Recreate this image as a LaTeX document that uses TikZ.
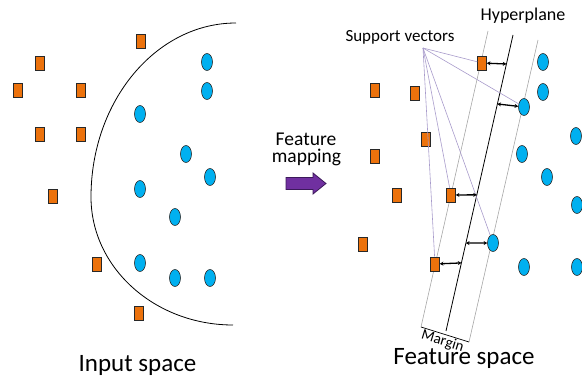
\documentclass[tikz,border=0pt]{standalone}
\usepackage{fontspec}
\setmainfont{Carlito}
\usetikzlibrary{shapes.geometric,arrows.meta,calc}
\definecolor{sqorange}{RGB}{236,114,12}
\definecolor{ciblue}{RGB}{0,176,240}
\definecolor{svpurple}{RGB}{168,155,203}
\definecolor{mgray}{RGB}{166,166,166}
\definecolor{arrpurple}{RGB}{112,48,160}
\definecolor{arrdark}{RGB}{60,25,90}
\definecolor{edge}{RGB}{40,40,40}
\tikzset{
  sqpt/.style={rectangle,minimum width=9pt,minimum height=14pt,inner sep=0pt,fill=sqorange,draw=edge,line width=0.6pt},
  cipt/.style={ellipse,minimum width=11pt,minimum height=17pt,inner sep=0pt,fill=ciblue,draw=edge,line width=0.6pt},
  svline/.style={draw=svpurple,line width=0.6pt},
  mline/.style={draw=mgray,line width=0.6pt},
  dist/.style={line width=1.3pt,{Stealth[length=3.6pt,width=4pt]}-{Stealth[length=3.6pt,width=4pt]}},
  lbl/.style={inner sep=0pt,anchor=base}
}
\begin{document}
\begin{tikzpicture}[x=1pt,y=-1pt]
\useasboundingbox (0,0) rectangle (582,377);
% ---------- input space ----------
\draw[line width=0.8pt] (236,23) .. controls (156,23) and (91,101) .. (91,197)
  .. controls (91,268) and (155,325) .. (233,325);
\foreach \n/\x/\y in {a1/141/41,a2/40/63,a3/18/90,a4/81/90,a5/40/134,a6/81/134,a7/53/196,a8/97/264,a9/139/313}
  \node[sqpt] (\n) at (\x,\y) {};
\foreach \n/\x/\y in {b1/207/62,b2/207/91,b3/140/114,b4/186/154,b5/210/177,b6/140/189,b7/175/217,b8/140/263,b9/175/278,b10/210/278}
  \node[cipt] (\n) at (\x,\y) {};
\node[lbl,font=\fontsize{25}{30}\selectfont] (inlbl) at (137.5,371.5) {Input space};
% ---------- feature mapping arrow ----------
\node[lbl,font=\fontsize{19.5}{23}\selectfont] (fm1) at (306,145.5) {Feature};
\node[lbl,font=\fontsize{19.5}{23}\selectfont] (fm2) at (306.5,163) {mapping};
\draw[fill=arrpurple,draw=arrdark,line width=0.8pt,line join=miter]
  (286,177.5) -- (313,177.5) -- (313,173) -- (326,183.5) -- (313,194) -- (313,189.5) -- (286,189.5) -- cycle;
% ---------- feature space ----------
\coordinate (gLt) at (488,31);
\coordinate (mL) at (421,327);
\coordinate (hT) at (513,35);
\coordinate (hB) at (446,331);
\coordinate (gRt) at (538,40);
\coordinate (mR) at (469,342);
\draw[mline] (gLt) -- (mL);
\draw[mline] (gRt) -- (mR);
\draw[line width=0.8pt] (hT) -- (hB);
\draw[line width=0.7pt] (mL) -- (mR);
\foreach \n/\x/\y in {c1/482/63,c2/375/90,c3/415/93,c4/426/139,c5/375/156,c6/397/195,c7/451/195,c8/363/244,c9/435/264}
  \node[sqpt] (\n) at (\x,\y) {};
\foreach \n/\x/\y in {d1/543/62,d2/543/92,d3/524/107,d4/576/136,d5/522/154,d6/547/177,d7/577/205,d8/493/243,d9/524/267,d10/577/267}
  \node[cipt] (\n) at (\x,\y) {};
% support vector pointers
\coordinate (sv) at (423,48);
\draw[svline] (sv) -- (c1);
\draw[svline] (sv) -- (d3);
\draw[svline] (sv) -- (c7);
\draw[svline] (sv) -- (d8);
\draw[svline] (sv) -- (c9);
% distances to hyperplane
\coordinate (h1) at ($(hT)!0.098!(hB)$);
\coordinate (h2) at ($(hT)!0.233!(hB)$);
\coordinate (h3) at ($(hT)!0.540!(hB)$);
\coordinate (h4) at ($(hT)!0.703!(hB)$);
\coordinate (h5) at ($(hT)!0.770!(hB)$);
\draw[dist] (c1) -- (h1);
\draw[dist] (h2) -- (d3);
\draw[dist] (c7) -- (h3);
\draw[dist] (h4) -- (d8);
\draw[dist] (c9) -- (h5);
% labels
\node[lbl,font=\fontsize{17}{20}\selectfont] (svlbl) at (400,42) {Support vectors};
\node[lbl,font=\fontsize{18}{22}\selectfont] (hplbl) at (523,21) {Hyperplane};
\node[inner sep=0pt,font=\fontsize{15}{18}\selectfont,rotate=-17] (mglbl) at (442.5,341.5) {Margin};
\node[lbl,font=\fontsize{25}{30}\selectfont] (fslbl) at (464,365) {Feature space};
\end{tikzpicture}
\end{document}
